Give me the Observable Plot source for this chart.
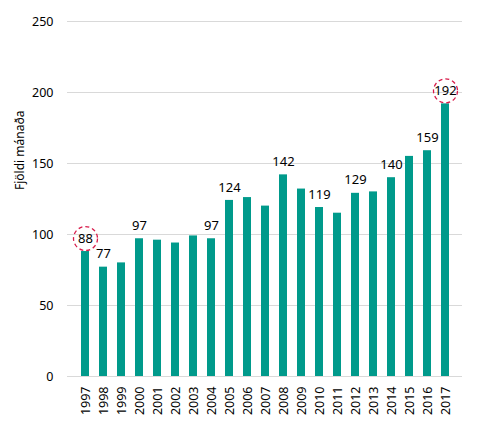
<!DOCTYPE html>
<html>
<head>
<meta charset="utf-8">
<script src="https://cdn.jsdelivr.net/npm/d3@7"></script>
<script src="https://cdn.jsdelivr.net/npm/@observablehq/plot@0.6"></script>
<style>
  html, body { margin: 0; padding: 0; background: #fff; }
  #chart svg { display: block; }
</style>
</head>
<body>
<div id="chart"></div>
<script>
const years = ["1997","1998","1999","2000","2001","2002","2003","2004","2005","2006","2007","2008","2009","2010","2011","2012","2013","2014","2015","2016","2017"];
const values = [88, 77, 80, 97, 96, 94, 99, 97, 124, 126, 120, 142, 132, 119, 115, 129, 130, 140, 155, 159, 192];
const labeledYears = ["1997","1998","2000","2004","2005","2008","2010","2012","2014","2016","2017"];
const circledYears = ["1997","2017"];
const yTicks = [0, 50, 100, 150, 200, 250];

const data = years.map((year, i) => ({year, value: values[i]}));
const labeled = data.filter(d => labeledYears.includes(d.year));
const circled = data.filter(d => circledYears.includes(d.year));

const chart = Plot.plot({
  width: 500,
  height: 433,
  marginLeft: 67,
  marginRight: 38,
  marginTop: 21,
  marginBottom: 57,
  style: {fontFamily: "'Noto Sans', sans-serif", fontSize: "12px", color: "#000", background: "#fff"},
  x: {type: "band", domain: years, paddingInner: 0.57, paddingOuter: 0.285, label: null},
  y: {domain: [0, 250], ticks: yTicks, label: null},
  marks: [
    Plot.ruleY(yTicks, {stroke: "#d9d9d9", strokeWidth: 1}),
    Plot.barY(data, {x: "year", y: "value", fill: "#009a8b"}),
    Plot.text(labeled, {x: "year", y: "value", text: d => String(d.value), dy: -13, fontSize: 13, fill: "#000"}),
    Plot.dot(circled, {x: "year", y: "value", dy: -13, r: 12, stroke: "#d81b4a", strokeWidth: 1.3, strokeDasharray: "4,3", fill: "none"}),
    Plot.axisY(yTicks, {tickSize: 0, tickPadding: 14, fontSize: 12.5, label: null}),
    Plot.axisX({tickSize: 0, tickPadding: 10, tickRotate: -90, fontSize: 12.5, label: null}),
    Plot.text(["Fjöldi mánaða"], {frameAnchor: "left", dx: -47, rotate: -90, fontSize: 12, fill: "#000", dy: -9})
  ]
});
document.getElementById("chart").appendChild(chart);
</script>
</body>
</html>
